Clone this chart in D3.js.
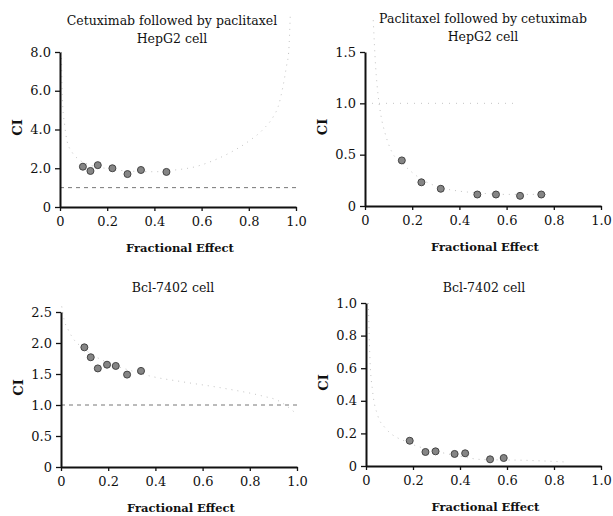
<!DOCTYPE html>
<html><head><meta charset="utf-8">
<script src="https://cdn.jsdelivr.net/npm/d3@7"></script>
<style>body{margin:0;background:#fff}svg{display:block}svg text{font-family:"DejaVu Serif",serif !important;fill:#111}</style>
</head><body><svg id="c" width="613" height="516"></svg>
<script>
// ---- data ----
const xTicks = [0, 0.2, 0.4, 0.6, 0.8, 1.0];
const titles1 = ["Cetuximab followed by paclitaxel", "HepG2 cell"];
const titles2 = ["Paclitaxel followed by cetuximab", "HepG2 cell"];
const titles3 = ["Bcl-7402 cell"];
const titles4 = ["Bcl-7402 cell"];
const yTicks1 = [0, 2, 4, 6, 8];
const yTicks2 = [0, 0.5, 1.0, 1.5];
const yTicks3 = [0, 0.5, 1.0, 1.5, 2.0, 2.5];
const yTicks4 = [0, 0.2, 0.4, 0.6, 0.8, 1.0];
const fa1 = [0.097, 0.129, 0.160, 0.222, 0.286, 0.343, 0.451];
const ci1 = [2.08, 1.86, 2.16, 2.00, 1.70, 1.91, 1.81];
const fa2 = [0.156, 0.239, 0.321, 0.476, 0.555, 0.657, 0.747];
const ci2 = [0.444, 0.231, 0.168, 0.112, 0.112, 0.099, 0.112];
const fa3 = [0.099, 0.126, 0.156, 0.195, 0.232, 0.280, 0.339];
const ci3 = [1.93, 1.77, 1.59, 1.65, 1.63, 1.49, 1.55];
const fa4 = [0.186, 0.253, 0.296, 0.377, 0.422, 0.528, 0.586];
const ci4 = [0.155, 0.086, 0.090, 0.074, 0.078, 0.041, 0.049];
// faint fitted Fa-CI curves
const curve1 = [[0.006,8.0],[0.01,5.6],[0.02,4.2],[0.03,3.4],[0.05,2.85],[0.08,2.45],[0.12,2.2],[0.2,1.98],[0.3,1.85],[0.4,1.82],[0.48,1.9],[0.58,2.1],[0.64,2.35],[0.72,2.8],[0.8,3.4],[0.86,4.0],[0.905,4.69],[0.925,5.2],[0.945,6.24],[0.96,7.29],[0.969,8.0],[0.976,10.0]];
const curve2 = [[0.035,1.81],[0.045,1.36],[0.056,1.07],[0.068,0.875],[0.085,0.71],[0.113,0.53],[0.156,0.42],[0.24,0.26],[0.32,0.18],[0.395,0.146],[0.466,0.13],[0.593,0.113],[0.734,0.113],[0.78,0.11]];
const curve3 = [[0.003,2.59],[0.013,2.38],[0.031,2.21],[0.045,2.11],[0.1,1.9],[0.2,1.68],[0.3,1.55],[0.385,1.46],[0.505,1.38],[0.689,1.27],[0.859,1.14],[0.915,1.08],[0.997,0.86]];
const curve4 = [[0.01,1.0],[0.017,0.65],[0.028,0.46],[0.05,0.31],[0.078,0.24],[0.186,0.14],[0.3,0.09],[0.4,0.06],[0.49,0.04],[0.676,0.035],[0.846,0.025]];
const refLine = 1.0;

const svg = d3.select("#c");
const fmt = v => v === 0 ? "0" : v.toFixed(1);

function panel(o){
  const x = d3.scaleLinear().domain([0,1]).range(o.xr);
  const y = d3.scaleLinear().domain([0, o.yTicks[o.yTicks.length-1]]).range(o.yr);
  const g = svg.append("g");
  o.titles.forEach((t,i)=>{
    g.append("text").attr("x",o.tx).attr("y",o.ty + i*18).attr("text-anchor","middle")
      .style("font-size","12.5px").text(t);
  });
  g.append("path").datum(o.curve)
    .attr("d", d3.line().x(d=>x(d[0])).y(d=>y(d[1])).curve(d3.curveMonotoneX))
    .attr("fill","none").attr("stroke","#c4c4c4").attr("stroke-width",1).attr("stroke-dasharray","1,5");
  if (o.ref === "dash") {
    g.append("line").attr("x1",x(0)).attr("x2",x(1)).attr("y1",y(refLine)).attr("y2",y(refLine))
      .attr("stroke","#777").attr("stroke-width",1).attr("stroke-dasharray","4,4");
  } else if (o.ref === "dot") {
    g.append("line").attr("x1",x(0)).attr("x2",x(0.65)).attr("y1",y(refLine)).attr("y2",y(refLine))
      .attr("stroke","#c4c4c4").attr("stroke-width",1).attr("stroke-dasharray","1,6");
  }
  const xa = g.append("g").attr("transform",`translate(0,${o.yr[0]})`)
    .call(d3.axisBottom(x).tickValues(xTicks).tickFormat(fmt).tickSize(4).tickSizeOuter(0));
  const ya = g.append("g").attr("transform",`translate(${o.xr[0]},0)`)
    .call(d3.axisLeft(y).tickValues(o.yTicks).tickFormat(fmt).tickSize(5).tickSizeOuter(0));
  [xa, ya].forEach(a=>{
    a.attr("font-family",null);
    a.select(".domain").attr("stroke","#111").attr("stroke-width",2);
    a.selectAll(".tick line").attr("stroke","#111").attr("stroke-width",1.3);
    a.selectAll(".tick text").style("font-size","13px").attr("fill","#111");
  });
  xa.selectAll(".tick text").attr("dy","0.95em");
  ya.selectAll(".tick text").attr("dx","-1");
  g.append("text").attr("x",(o.xr[0]+o.xr[1])/2 + 2).attr("y",o.yr[0]+45).attr("text-anchor","middle")
    .style("font-size","11.5px").style("font-weight","bold").text("Fractional Effect");
  g.append("text").attr("transform",`translate(${o.xr[0]-38},${(o.yr[0]+o.yr[1])/2 - 2}) rotate(-90)`)
    .attr("text-anchor","middle").style("font-size","13px").style("font-weight","bold").text("CI");
  g.selectAll("circle.pt").data(o.fa.map((f,i)=>[f,o.ci[i]])).join("circle")
    .attr("class","pt").attr("cx",d=>x(d[0])).attr("cy",d=>y(d[1])).attr("r",3.5)
    .attr("fill","#858585").attr("stroke","#444").attr("stroke-width",1);
}

panel({xr:[60,296], yr:[207,52], yTicks:yTicks1, titles:titles1, tx:172, ty:25, fa:fa1, ci:ci1, curve:curve1, ref:"dash"});
panel({xr:[365,601], yr:[206,52], yTicks:yTicks2, titles:titles2, tx:483, ty:23, fa:fa2, ci:ci2, curve:curve2, ref:"dot"});
panel({xr:[61,297], yr:[467,312], yTicks:yTicks3, titles:titles3, tx:173, ty:292, fa:fa3, ci:ci3, curve:curve3, ref:"dash"});
panel({xr:[366,601], yr:[466,303], yTicks:yTicks4, titles:titles4, tx:484, ty:292, fa:fa4, ci:ci4, curve:curve4, ref:"none"});
</script></body></html>
